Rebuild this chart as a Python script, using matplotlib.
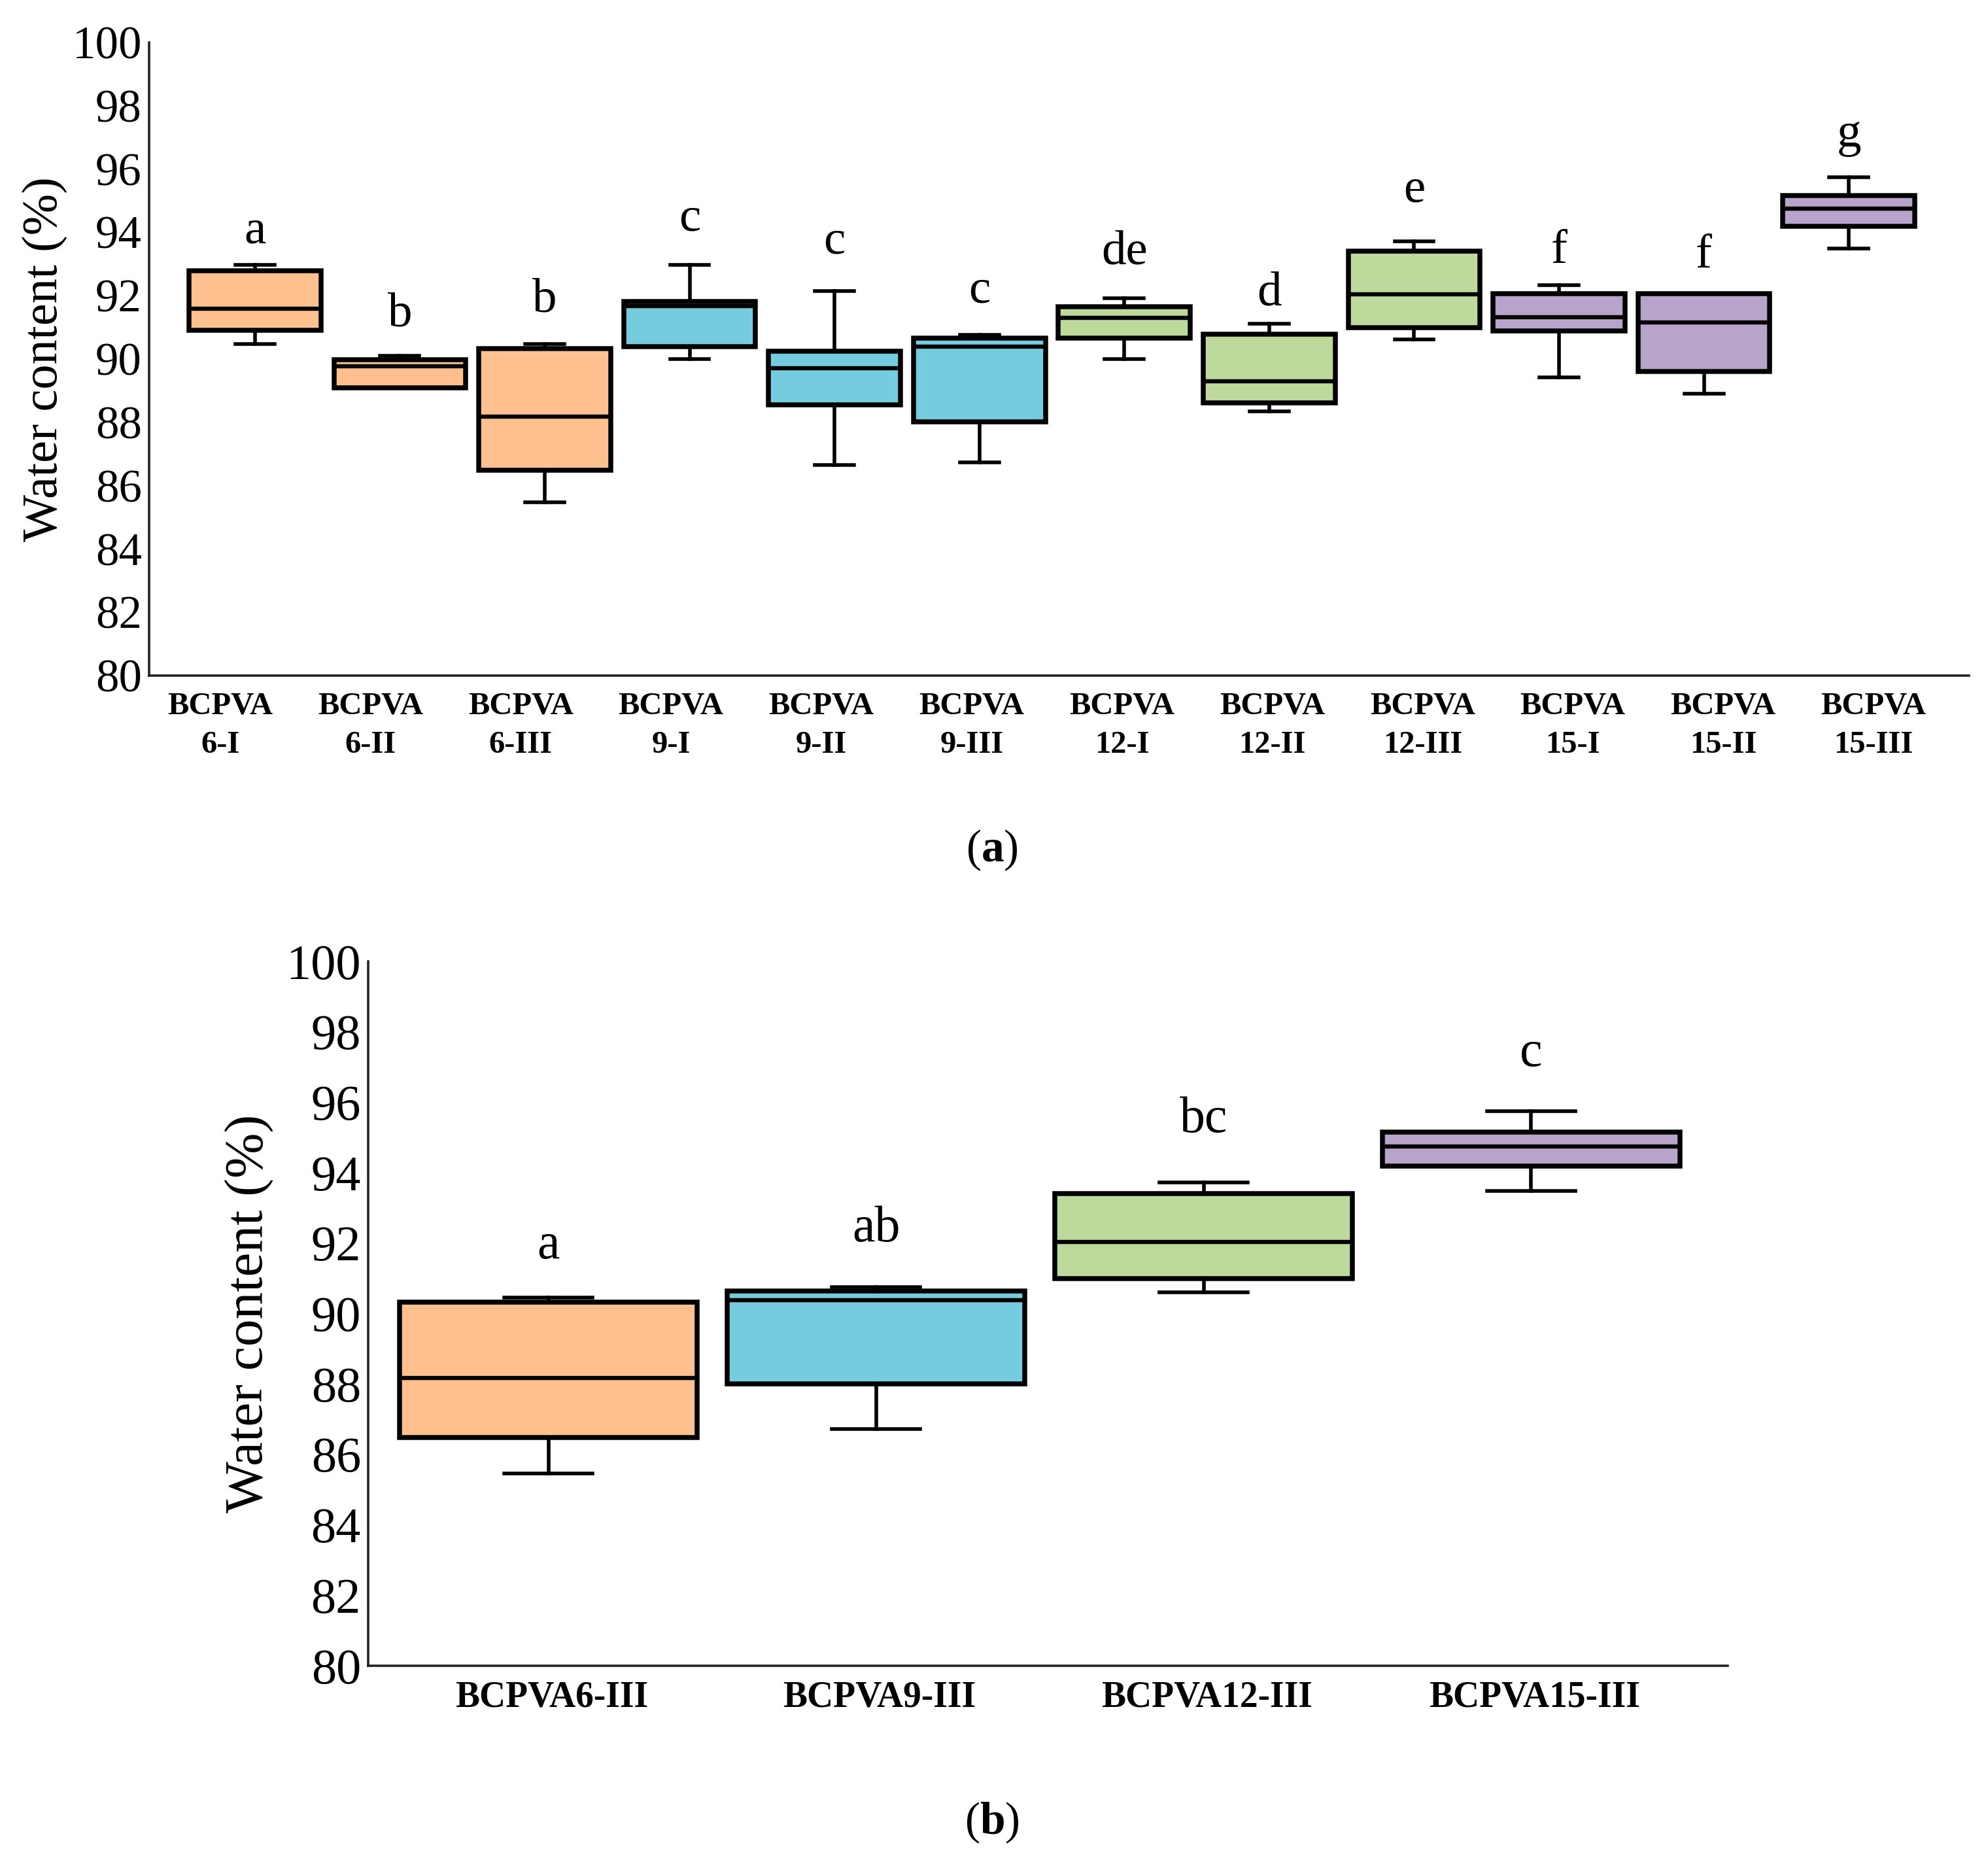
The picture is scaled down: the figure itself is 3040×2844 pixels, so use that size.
import numpy as np
from matplotlib import pyplot as plt

plt.rcParams['font.family'] = ['Liberation Serif', 'DejaVu Serif']
plt.rcParams['mathtext.fontset'] = 'custom'
plt.rcParams['mathtext.rm'] = 'Liberation Serif'
plt.rcParams['mathtext.bf'] = 'Liberation Serif:bold'

# Water content (%) box statistics
samples = ['6-I', '6-II', '6-III', '9-I', '9-II', '9-III',
           '12-I', '12-II', '12-III', '15-I', '15-II', '15-III']
whis_lo = [90.46, 89.09, 85.46, 90.00, 86.65, 86.72, 90.00, 88.33, 90.61, 89.42, 88.90, 93.48]
q1 = [90.91, 89.09, 86.49, 90.38, 88.54, 88.01, 90.65, 88.61, 90.99, 90.87, 89.59, 94.19]
med = [91.59, 89.77, 88.17, 91.67, 89.70, 90.38, 91.29, 89.28, 92.04, 91.32, 91.14, 94.74]
q3 = [92.78, 89.97, 90.33, 91.81, 90.25, 90.65, 91.65, 90.78, 93.41, 92.06, 92.06, 95.16]
whis_hi = [92.97, 90.09, 90.46, 92.96, 92.14, 90.75, 91.91, 91.10, 93.72, 92.32, 92.06, 95.74]

# significance letters (a) and where they sit
letters_a = ['a', 'b', 'b', 'c', 'c', 'c', 'de', 'd', 'e', 'f', 'f', 'g']
letter_y_a = [93.65, 91.04, 91.48, 94.06, 93.32, 91.77, 93.0, 91.70, 94.96, 93.03, 92.88, 96.70]

# panel (b) uses the -III samples
sel_b = [2, 5, 8, 11]
labels_b = ['BCPVA6-III', 'BCPVA9-III', 'BCPVA12-III', 'BCPVA15-III']
letters_b = ['a', 'ab', 'bc', 'c']
letter_y_b = [91.57, 92.06, 95.15, 97.03]

group_colors = ['#FFC08F', '#74CCDE', '#BDD99C', '#B8A4CB']


def make_stats(idx):
    stats = []
    for i in idx:
        stats.append({'whislo': whis_lo[i], 'q1': q1[i], 'med': med[i],
                      'q3': q3[i], 'whishi': whis_hi[i], 'fliers': []})
    return stats


def draw_boxes(ax, idx, colors):
    pos = np.arange(1, len(idx) + 1)
    bp = ax.bxp(make_stats(idx), positions=pos, widths=0.91, capwidths=0.27,
                patch_artist=True, showfliers=False,
                boxprops=dict(linewidth=2.7, edgecolor='black'),
                medianprops=dict(linewidth=2.3, color='black'),
                whiskerprops=dict(linewidth=2.0, color='black'),
                capprops=dict(linewidth=2.0, color='black'))
    for patch, c in zip(bp['boxes'], colors):
        patch.set_facecolor(c)
    return pos


def style_axis(ax, tick_size):
    ax.set_ylim(80, 100)
    ax.set_yticks(np.arange(80, 101, 2))
    for s in ['top', 'right']:
        ax.spines[s].set_visible(False)
    for s in ['left', 'bottom']:
        ax.spines[s].set_linewidth(1.3)
        ax.spines[s].set_color('#222222')
    ax.tick_params(axis='both', length=0)
    ax.tick_params(axis='y', labelsize=tick_size, pad=4)


fig = plt.figure(figsize=(15.2, 14.22), dpi=200)

# ---- panel (a) ----
ax1 = fig.add_axes([0.075, 0.6369, 0.9155, 0.3404])
colors_a = [group_colors[i // 3] for i in range(len(samples))]
pos_a = draw_boxes(ax1, range(len(samples)), colors_a)
style_axis(ax1, 25.5)
ax1.set_xlim(0.27, 12.83)
ax1.set_xticks(np.linspace(0.76, 12.17, 12))
ax1.set_xticklabels(['BCPVA\n' + s for s in samples], fontsize=17.5,
                    fontweight='bold', linespacing=1.45)
ax1.tick_params(axis='x', pad=9)
ax1.set_ylabel('Water content (%)', fontsize=27.5)
ax1.yaxis.set_label_coords(-0.045, 0.5)
for x, y, t in zip(pos_a, letter_y_a, letters_a):
    ax1.text(x, y, t, ha='center', va='baseline', fontsize=27)

# ---- panel (b) ----
ax2 = fig.add_axes([0.1852, 0.1044, 0.6839, 0.3787])
pos_b = draw_boxes(ax2, sel_b, group_colors)
style_axis(ax2, 27.5)
ax2.set_xlim(0.45, 4.6)
ax2.set_xticks(pos_b + 0.01)
ax2.set_xticklabels(labels_b, fontsize=20, fontweight='bold')
ax2.tick_params(axis='x', pad=8)
ax2.set_ylabel('Water content (%)', fontsize=30)
ax2.yaxis.set_label_coords(-0.069, 0.5)
for x, y, t in zip(pos_b, letter_y_b, letters_b):
    ax2.text(x, y, t, ha='center', va='baseline', fontsize=28)

fig.text(0.499, 0.5429, r'($\mathbf{a}$)', ha='center', va='center', fontsize=25)
fig.text(0.499, 0.020, r'($\mathbf{b}$)', ha='center', va='center', fontsize=25)

fig.savefig('out.png', dpi=200, facecolor='white')
